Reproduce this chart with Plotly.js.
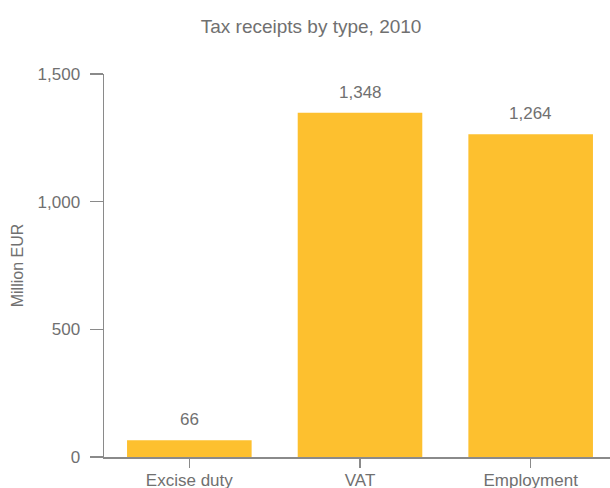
<!DOCTYPE html>
<html>
<head>
<meta charset="utf-8">
<script src="https://cdn.plot.ly/plotly-3.0.1.min.js"></script>
<style>html,body{margin:0;padding:0;overflow:hidden;background:#fff}</style>
</head>
<body>
<div id="chart"></div>
<script>
const categories = ["Excise duty", "VAT", "Employment"];
const values = [66, 1348, 1264];
const yTicks = [0, 500, 1000, 1500];

const textColor = "#707070";
const lineColor = "#8a8a8a";
const fontFam = "'Liberation Sans', Arial, sans-serif";

const trace = {
  type: "bar",
  x: categories,
  y: values,
  marker: {color: "#FDC02F"},
  hoverinfo: "none"
};

const annotations = categories.map((c, i) => ({
  x: c, y: values[i], xref: "x", yref: "y",
  text: values[i].toLocaleString("en-US"),
  showarrow: false, yanchor: "bottom", yshift: 9,
  font: {family: fontFam, size: 17, color: textColor}
}));

const layout = {
  width: 616, height: 488,
  margin: {l: 104, r: 0, t: 74, b: 31},
  paper_bgcolor: "#fff", plot_bgcolor: "#fff",
  bargap: 0.27,
  title: {text: "Tax receipts by type, 2010", x: 0.505, xanchor: "center", y: 0.946, yanchor: "middle",
          font: {family: fontFam, size: 19, color: textColor}},
  xaxis: {
    showline: true, linecolor: lineColor, linewidth: 1.5,
    ticks: "outside", ticklen: 9, tickcolor: lineColor, tickwidth: 1.5,
    ticklabelstandoff: -2,
    showgrid: false, zeroline: false,
    tickfont: {family: fontFam, size: 17, color: textColor}
  },
  yaxis: {
    range: [0, 1500], tickvals: yTicks, tickformat: ",",
    showline: true, linecolor: lineColor, linewidth: 1.5,
    ticks: "outside", ticklen: 13, tickcolor: lineColor, tickwidth: 1.5,
    ticklabelstandoff: 6,
    showgrid: false, zeroline: false,
    tickfont: {family: fontFam, size: 17, color: textColor},
    title: {text: "Million EUR", standoff: 10, font: {family: fontFam, size: 16, color: textColor}}
  },
  annotations: annotations,
  showlegend: false
};

Plotly.newPlot("chart", [trace], layout, {displayModeBar: false, staticPlot: true});
</script>
</body>
</html>
